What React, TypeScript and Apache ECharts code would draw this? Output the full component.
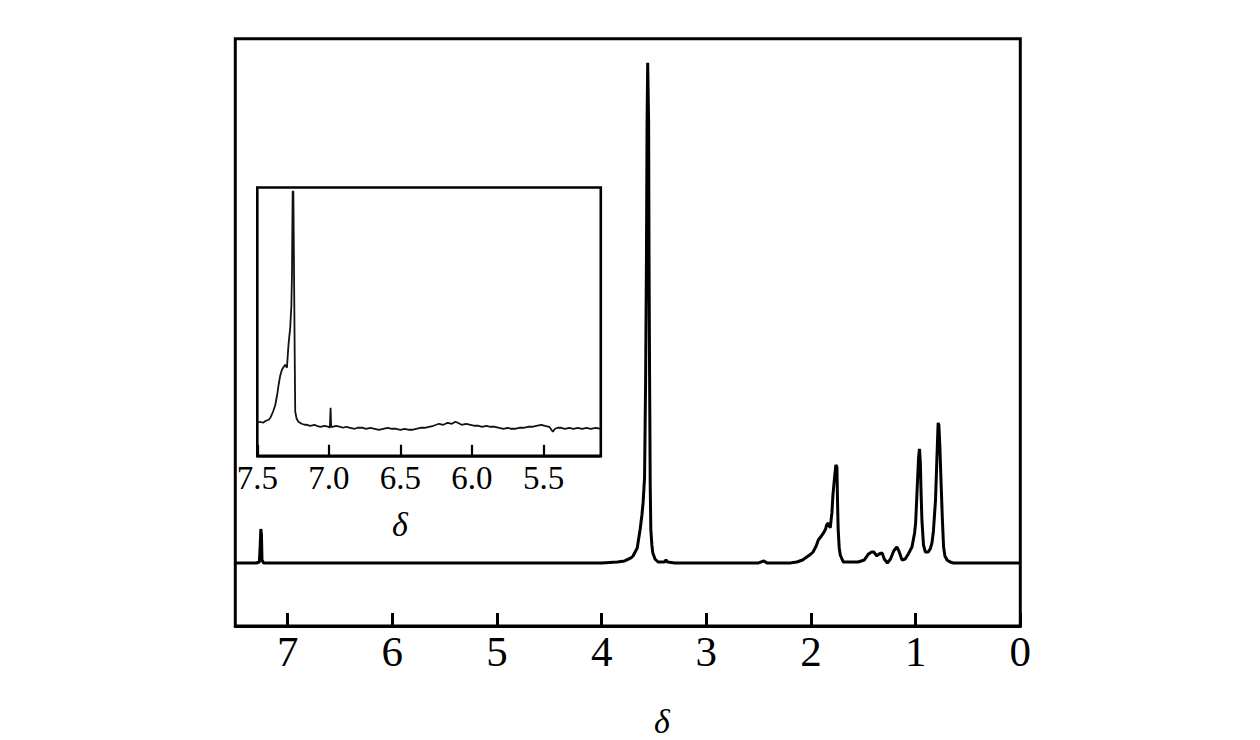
import React, { useEffect, useRef } from "react";
import * as echarts from "echarts";

// Tick values
const mainTickValues = [0, 1, 2, 3, 4, 5, 6, 7];
const insetTickValues = [7.5, 7.0, 6.5, 6.0, 5.5];

// Main spectrum, [chemical shift δ, intensity]
const mainAromatic: number[][] = [
  [7.5, 0], [7.3, 0], [7.27, 1], [7.262, 18], [7.256, 34], [7.25, 28], [7.245, 3], [7.23, 0],
  [6.9, 0], [5.0, 0], [4.0, 0],
];
const mainOCH2: number[][] = [
  [3.85, 1], [3.78, 2], [3.72, 5], [3.7, 7], [3.66, 15], [3.633, 33], [3.615, 48], [3.604, 60],
  [3.59, 85], [3.58, 180], [3.572, 300], [3.566, 440], [3.56, 500], [3.555, 500], [3.551, 440],
  [3.547, 300], [3.542, 190], [3.536, 80], [3.53, 33], [3.52, 18], [3.511, 10], [3.49, 4],
  [3.461, 1], [3.4, 1], [3.385, 3], [3.37, 1], [3.3, 0], [2.5, 0], [2.45, 2], [2.42, 0], [2.2, 0],
];
const mainCH: number[][] = [
  [2.135, 1], [2.08, 3], [2.04, 6], [2.0, 9], [1.98, 11], [1.95, 17], [1.93, 23], [1.9, 27],
  [1.88, 30], [1.86, 34], [1.85, 38], [1.835, 40], [1.816, 35], [1.8, 50], [1.79, 68],
  [1.775, 85], [1.762, 98], [1.752, 96], [1.746, 60], [1.74, 33], [1.73, 15], [1.72, 8],
  [1.7, 3], [1.69, 1], [1.62, 1], [1.55, 1],
];
const mainAliphatic: number[][] = [
  [1.49, 3], [1.45, 9], [1.42, 11], [1.4, 11], [1.37, 7], [1.35, 9], [1.32, 10], [1.3, 4],
  [1.27, 0], [1.24, 4], [1.21, 12], [1.18, 16], [1.16, 12], [1.13, 3], [1.1, 4], [1.07, 9],
  [1.035, 16], [1.01, 30], [1.0, 40], [0.985, 75], [0.972, 105], [0.963, 114], [0.955, 100],
  [0.948, 70], [0.94, 43], [0.925, 18], [0.908, 11], [0.88, 11], [0.86, 14], [0.844, 20],
  [0.83, 32], [0.81, 63], [0.795, 110], [0.785, 140], [0.778, 138], [0.768, 115], [0.758, 83],
  [0.745, 45], [0.733, 16], [0.72, 7], [0.7, 3], [0.67, 1], [0.64, 0], [0.0, 0],
];

// Inset spectrum, [δ, intensity]
const insetPeak: number[][] = [
  [7.5, 33], [7.48, 34], [7.46, 33], [7.44, 35], [7.42, 36], [7.409, 38], [7.39, 44], [7.374, 51],
  [7.36, 62], [7.351, 71], [7.34, 80], [7.328, 86], [7.315, 89], [7.305, 91], [7.293, 88],
  [7.282, 111], [7.27, 128], [7.262, 150], [7.258, 179], [7.253, 264], [7.248, 264], [7.243, 178],
  [7.238, 90], [7.235, 44], [7.225, 37], [7.213, 34], [7.19, 32], [7.17, 31], [7.154, 31],
  [7.13, 30], [7.1, 31], [7.085, 30], [7.06, 29], [7.03, 30], [7.0, 29], [6.993, 28],
  [6.988, 48], [6.984, 29], [6.974, 29],
];
const insetBaseline: number[][] = [
  [6.95, 30], [6.92, 29], [6.9, 28], [6.88, 29], [6.85, 28], [6.82, 27], [6.8, 28], [6.762, 28],
  [6.74, 27], [6.71, 28], [6.68, 27], [6.65, 26], [6.62, 27], [6.59, 28], [6.56, 27], [6.531, 27],
  [6.5, 26], [6.47, 27], [6.44, 26], [6.418, 26], [6.39, 27], [6.36, 28], [6.33, 28], [6.3, 29],
  [6.27, 30], [6.25, 31], [6.231, 32], [6.2, 31], [6.17, 33], [6.14, 32], [6.116, 34], [6.1, 33],
  [6.072, 31], [6.04, 32], [6.01, 31], [5.98, 30], [5.954, 30], [5.93, 29], [5.9, 30], [5.87, 29],
  [5.839, 29], [5.81, 28], [5.78, 27], [5.75, 28], [5.726, 27], [5.7, 27], [5.67, 28], [5.64, 28],
  [5.608, 29], [5.58, 29], [5.55, 30], [5.516, 31], [5.49, 30], [5.46, 29], [5.445, 26],
  [5.435, 24], [5.42, 27], [5.4, 28], [5.377, 28], [5.35, 27], [5.32, 28], [5.29, 27],
  [5.262, 28], [5.23, 27], [5.2, 28], [5.17, 27], [5.135, 28], [5.1, 27],
];

const SERIF = '"Liberation Serif", "Times New Roman", serif';

export default function App() {
  const ref = useRef<HTMLDivElement>(null);
  useEffect(() => {
    if (!ref.current) return;
    const chart = echarts.init(ref.current, null, { renderer: "svg" });
    const mainData = [...mainAromatic, ...mainOCH2, ...mainCH, ...mainAliphatic];
    const insetData = [...insetPeak, ...insetBaseline];
    chart.setOption({
      animation: false,
      backgroundColor: "#fff",
      grid: [
        { left: 235.3, top: 38.7, width: 785, height: 587.3, show: true, borderColor: "#000", borderWidth: 3, backgroundColor: "transparent" },
        { left: 257.3, top: 187.5, width: 343.5, height: 268.3, show: true, borderColor: "#000", borderWidth: 2.6, backgroundColor: "#fff", z: 5 },
      ],
      xAxis: [
        {
          type: "value", gridIndex: 0, min: 0, max: 7.5, inverse: true,
          axisLine: { show: true, onZero: false, lineStyle: { color: "#000", width: 3 } },
          axisTick: { show: true, inside: true, length: 13, lineStyle: { color: "#000", width: 3 }, customValues: mainTickValues },
          axisLabel: { customValues: mainTickValues, formatter: (v: number) => String(v), fontFamily: SERIF, fontSize: 43, color: "#000", margin: 4 },
          splitLine: { show: false },
        },
        {
          type: "value", gridIndex: 1, min: 5.1, max: 7.5, inverse: true, z: 6,
          axisLine: { show: true, onZero: false, lineStyle: { color: "#000", width: 2.6 } },
          axisTick: { show: true, inside: true, length: 11, lineStyle: { color: "#000", width: 2.2 }, customValues: insetTickValues },
          axisLabel: { customValues: insetTickValues, formatter: (v: number) => v.toFixed(1), fontFamily: SERIF, fontSize: 33, color: "#000", margin: 6 },
          splitLine: { show: false },
        },
      ],
      yAxis: [
        { type: "value", gridIndex: 0, min: -63, max: 524, show: false, splitLine: { show: false } },
        { type: "value", gridIndex: 1, min: 0, max: 268, show: false, splitLine: { show: false } },
      ],
      series: [
        {
          type: "line", xAxisIndex: 0, yAxisIndex: 0, data: mainData, showSymbol: false, symbol: "none",
          lineStyle: { color: "#000", width: 3 }, clip: true, z: 2,
        },
        {
          type: "line", xAxisIndex: 1, yAxisIndex: 1, data: insetData, showSymbol: false, symbol: "none",
          lineStyle: { color: "#111", width: 1.8 }, clip: true, z: 7,
        },
      ],
      graphic: [
        { type: "text", x: 662, y: 721, z: 10, style: { text: "δ", fontFamily: SERIF, fontStyle: "italic", fontSize: 34, fill: "#000", align: "center", verticalAlign: "middle" } },
        { type: "text", x: 400, y: 524, z: 10, style: { text: "δ", fontFamily: SERIF, fontStyle: "italic", fontSize: 34, fill: "#000", align: "center", verticalAlign: "middle" } },
      ],
    });
    return () => chart.dispose();
  }, []);
  return (
    <div
      ref={ref}
      style={{ position: "absolute", left: 0, top: 0, width: 1260, height: 740, background: "#fff" }}
    />
  );
}
